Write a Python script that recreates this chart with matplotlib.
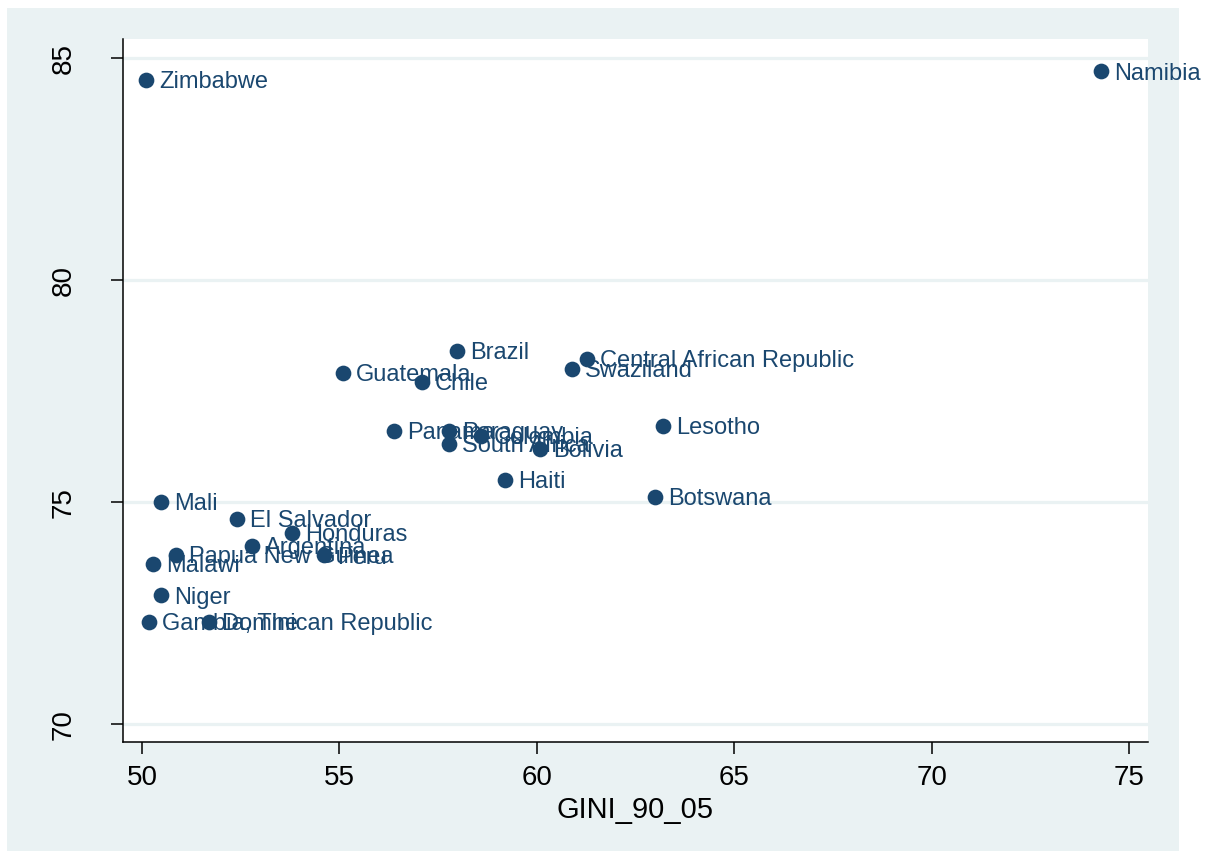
import matplotlib
matplotlib.use('Agg')
import matplotlib.pyplot as plt
from matplotlib.patches import Rectangle

plt.rcParams['font.family'] = ['Liberation Sans', 'DejaVu Sans']

# data
countries = ['Zimbabwe', 'Namibia', 'Brazil', 'Central African Republic', 'Swaziland',
             'Guatemala', 'Chile', 'Lesotho', 'Panama', 'Paraguay', 'Colombia',
             'South Africa', 'Bolivia', 'Haiti', 'Botswana', 'Mali', 'El Salvador',
             'Honduras', 'Argentina', 'Papua New Guinea', 'Peru', 'Malawi', 'Niger',
             'Gambia, The', 'Dominican Republic']
gini = [50.1, 74.28, 57.97, 61.27, 60.89,
        55.09, 57.09, 63.19, 56.38, 57.77, 58.58,
        57.77, 60.08, 59.19, 62.99, 50.48, 52.41,
        53.80, 52.78, 50.86, 54.61, 50.28, 50.48,
        50.18, 51.70]
yval = [84.5, 84.7, 78.4, 78.22, 78.0,
        77.9, 77.7, 76.71, 76.6, 76.6, 76.5,
        76.31, 76.19, 75.5, 75.11, 75.0, 74.62,
        74.3, 74.01, 73.81, 73.8, 73.6, 72.9,
        72.3, 72.3]
xticks = [50, 55, 60, 65, 70, 75]
yticks = [70, 75, 80, 85]

navy = '#1a476f'
panel = '#eaf2f3'

fig = plt.figure(figsize=(12.07, 8.52), dpi=100)
fig.patch.set_facecolor('white')
fig.patches.append(Rectangle((7 / 1207, 1 / 852), 1172 / 1207, 843 / 852,
                             transform=fig.transFigure, facecolor=panel,
                             edgecolor='none', zorder=-10))

ax = fig.add_axes([123 / 1207, 110 / 852, 1025 / 1207, 703 / 852])
ax.set_facecolor('white')

ax.scatter(gini, yval, s=128, color=navy, zorder=3, linewidths=0)
for name, x, y in zip(countries, gini, yval):
    ax.annotate(name, (x, y), xytext=(9.5, -1.5), textcoords='offset points',
                fontsize=17, color=navy, va='center', ha='left', zorder=4)

ax.set_xlim(49.52, 75.48)
ax.set_ylim(69.6, 85.43)
ax.set_xticks(xticks)
ax.set_yticks(yticks)
ax.set_xticklabels([str(v) for v in xticks])
ax.set_yticklabels([str(v) for v in yticks], rotation=90, va='center')
ax.tick_params(axis='both', direction='out', length=8.5, width=1.1,
               labelsize=20, colors='black')
ax.tick_params(axis='x', pad=8)
ax.tick_params(axis='y', pad=25)

ax.grid(axis='y', color=panel, linewidth=2.3, zorder=0)
ax.set_axisbelow(True)
for side in ['top', 'right']:
    ax.spines[side].set_visible(False)
for side in ['left', 'bottom']:
    ax.spines[side].set_linewidth(1.1)
    ax.spines[side].set_color('black')

ax.set_xlabel('GINI_90_05', fontsize=21, labelpad=4)

fig.savefig('out.png', dpi=100, facecolor=fig.get_facecolor())
